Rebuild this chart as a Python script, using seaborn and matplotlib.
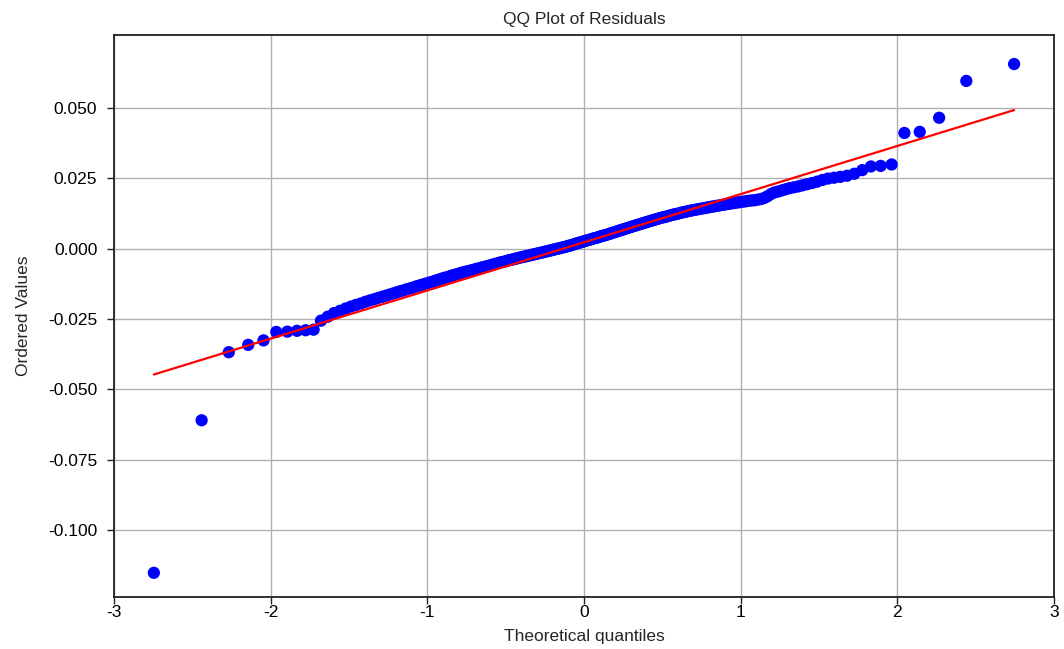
import numpy as np
import matplotlib
matplotlib.use("Agg")
import matplotlib.pyplot as plt
import seaborn as sns
from statistics import NormalDist

# Ordered residuals (sorted, n = 229)
ordered_values = [
    -0.1152, -0.0610, -0.0368, -0.0342, -0.0326, -0.0296, -0.0295, -0.0292, -0.0290, -0.0288,
    -0.0256, -0.0242, -0.0229, -0.0221, -0.0213, -0.0206, -0.0200, -0.0195, -0.0189, -0.0184,
    -0.0180, -0.0175, -0.0171, -0.0167, -0.0163, -0.0159, -0.0155, -0.0151, -0.0148, -0.0144,
    -0.0141, -0.0138, -0.0134, -0.0131, -0.0128, -0.0125, -0.0122, -0.0119, -0.0116, -0.0113,
    -0.0110, -0.0107, -0.0104, -0.0102, -0.0099, -0.0096, -0.0094, -0.0091, -0.0089, -0.0086,
    -0.0084, -0.0082, -0.0080, -0.0078, -0.0076, -0.0074, -0.0072, -0.0070, -0.0068, -0.0066,
    -0.0064, -0.0062, -0.0060, -0.0058, -0.0056, -0.0054, -0.0052, -0.0050, -0.0048, -0.0047,
    -0.0045, -0.0043, -0.0041, -0.0040, -0.0038, -0.0036, -0.0035, -0.0033, -0.0031, -0.0030,
    -0.0028, -0.0027, -0.0025, -0.0024, -0.0022, -0.0021, -0.0019, -0.0018, -0.0016, -0.0015,
    -0.0013, -0.0012, -0.0010, -0.0009, -0.0007, -0.0006, -0.0004, -0.0003, -0.0001, 0.0000,
    0.0002, 0.0003, 0.0005, 0.0006, 0.0008, 0.0010, 0.0011, 0.0013, 0.0015, 0.0017,
    0.0019, 0.0021, 0.0022, 0.0024, 0.0026, 0.0028, 0.0030, 0.0031, 0.0033, 0.0035,
    0.0037, 0.0038, 0.0040, 0.0042, 0.0044, 0.0046, 0.0047, 0.0049, 0.0051, 0.0053,
    0.0055, 0.0057, 0.0059, 0.0061, 0.0063, 0.0065, 0.0067, 0.0069, 0.0071, 0.0073,
    0.0075, 0.0077, 0.0079, 0.0081, 0.0083, 0.0085, 0.0087, 0.0089, 0.0091, 0.0093,
    0.0095, 0.0097, 0.0099, 0.0101, 0.0103, 0.0105, 0.0107, 0.0109, 0.0111, 0.0112,
    0.0114, 0.0116, 0.0118, 0.0120, 0.0122, 0.0123, 0.0125, 0.0127, 0.0129, 0.0130,
    0.0132, 0.0134, 0.0135, 0.0137, 0.0138, 0.0140, 0.0141, 0.0143, 0.0144, 0.0146,
    0.0147, 0.0149, 0.0150, 0.0152, 0.0153, 0.0155, 0.0156, 0.0158, 0.0159, 0.0161,
    0.0162, 0.0164, 0.0165, 0.0167, 0.0168, 0.0170, 0.0171, 0.0172, 0.0174, 0.0176,
    0.0180, 0.0186, 0.0194, 0.0200, 0.0203, 0.0207, 0.0211, 0.0215, 0.0218, 0.0221,
    0.0225, 0.0229, 0.0233, 0.0238, 0.0244, 0.0249, 0.0252, 0.0255, 0.0259, 0.0266,
    0.0279, 0.0292, 0.0294, 0.0299, 0.0411, 0.0415, 0.0465, 0.0596, 0.0656,
]

x_ticks = [-3, -2, -1, 0, 1, 2, 3]
y_ticks = [-0.100, -0.075, -0.050, -0.025, 0.000, 0.025, 0.050]

# Theoretical normal quantiles (Filliben's order statistic medians, as in probplot)
n = len(ordered_values)
ranks = np.arange(1, n + 1)
probs = (ranks - 0.3175) / (n + 0.365)
probs[-1] = 0.5 ** (1.0 / n)
probs[0] = 1 - probs[-1]
theoretical = [NormalDist().inv_cdf(p) for p in probs]

sns.set_style("whitegrid")
plt.rcParams['font.family'] = ['Liberation Sans', 'DejaVu Sans']
plt.rcParams['axes.unicode_minus'] = False

fig = plt.figure(figsize=(10.64, 6.49), dpi=100)
ax = fig.add_axes([0.1071, 0.0801, 0.8835, 0.8659])

sns.regplot(x=theoretical, y=np.sort(ordered_values), ci=None, ax=ax,
            scatter_kws=dict(s=78, color="#0000ff", edgecolors="none", alpha=1),
            line_kws=dict(color="#ff0000", lw=1.6))

ax.set_xlim(-3, 3)
ax.set_ylim(-0.1238, 0.0759)
ax.set_xticks(x_ticks)
ax.set_yticks(y_ticks)
ax.set_yticklabels([f"{v:.3f}" for v in y_ticks])
ax.set_xticklabels([str(v) for v in x_ticks])
ax.grid(True, color="#b0b0b0", lw=1.0)
ax.set_axisbelow(True)
for side in ax.spines.values():
    side.set_color("#222222")
    side.set_linewidth(1.3)
ax.tick_params(axis="both", direction="out", length=5, width=1, color="#222222",
               labelsize=12.5, labelcolor="black", bottom=True, left=True)
ax.tick_params(axis="y", pad=7)
ax.tick_params(axis="x", pad=1)

ax.set_title("QQ Plot of Residuals", fontsize=12.5, pad=8)
ax.set_xlabel("Theoretical quantiles", fontsize=12.5, labelpad=6)
ax.set_ylabel("Ordered Values", fontsize=12.5, labelpad=12)

fig.savefig("out.png", dpi=100)
